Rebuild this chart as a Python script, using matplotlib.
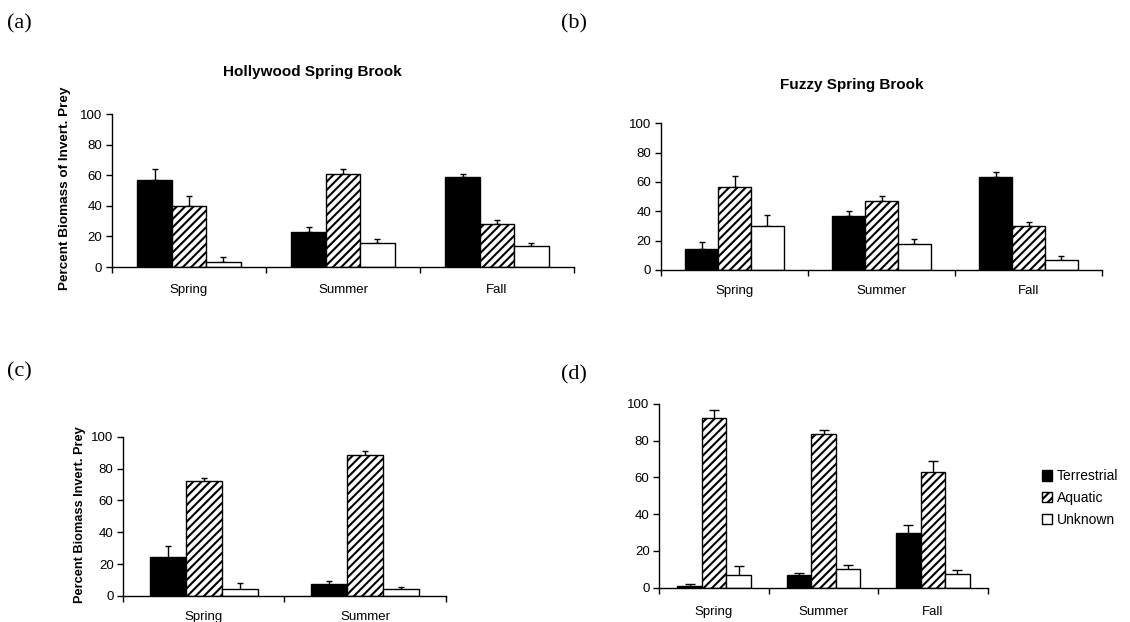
import matplotlib
matplotlib.use("Agg")
import matplotlib.pyplot as plt
import numpy as np
from matplotlib.patches import Patch

plt.rcParams['font.family'] = ['Liberation Sans', 'DejaVu Sans']
plt.rcParams['hatch.linewidth'] = 1.5

series = ["Terrestrial", "Aquatic", "Unknown"]
seasons3 = ["Spring", "Summer", "Fall"]
seasons2 = ["Spring", "Summer"]

# (a) Hollywood Spring Brook
a_vals = {"Terrestrial": [57, 23, 58.5], "Aquatic": [40, 61, 28.3], "Unknown": [3, 15.5, 13.5]}
a_err = {"Terrestrial": [7, 3, 2.5], "Aquatic": [6.5, 3, 2.7], "Unknown": [3.5, 3, 2]}
# (b) Fuzzy Spring Brook
b_vals = {"Terrestrial": [14.3, 36.8, 63.2], "Aquatic": [56.4, 46.8, 30.2], "Unknown": [30.2, 17.5, 7]}
b_err = {"Terrestrial": [4.6, 3.4, 3.8], "Aquatic": [7.9, 3.6, 2.8], "Unknown": [7.5, 3.4, 2.5]}
# (c)
c_vals = {"Terrestrial": [24.7, 7.7], "Aquatic": [72.5, 88.5], "Unknown": [4.2, 4.6]}
c_err = {"Terrestrial": [7, 1.9], "Aquatic": [1.8, 2.5], "Unknown": [3.8, 1.3]}
# (d)
d_vals = {"Terrestrial": [1.0, 6.9, 29.7], "Aquatic": [92.1, 83.4, 63.0], "Unknown": [6.9, 10.3, 7.4]}
d_err = {"Terrestrial": [0.8, 1.2, 4.4], "Aquatic": [4.5, 2.3, 5.6], "Unknown": [5.0, 2.0, 2.4]}

styles = {
    "Terrestrial": dict(facecolor="black", hatch=None),
    "Aquatic": dict(facecolor="white", hatch="////"),
    "Unknown": dict(facecolor="white", hatch=None),
}

W, H = 1130, 622
fig = plt.figure(figsize=(W / 100, H / 100), dpi=100)


def ax_at(x0, x1, y0, y100):
    return fig.add_axes([x0 / W, 1 - y0 / H, (x1 - x0) / W, (y0 - y100) / H])


def draw(ax, cats, vals, errs, upper_only, capsize=2.5, xpad=9):
    n = len(cats)
    bw = 0.224
    xs = np.arange(n) + 0.5
    for i, s in enumerate(series):
        pos = xs + (i - 1) * bw
        v = np.array(vals[s])
        e = np.array(errs[s])
        if upper_only:
            yerr = [np.zeros_like(e), e]
        else:
            yerr = e
        ax.errorbar(pos, v, yerr=yerr, fmt="none", ecolor="black", elinewidth=1,
                    capsize=capsize, capthick=1, zorder=1)
        ax.bar(pos, v, width=bw, edgecolor="black", linewidth=1,
               facecolor=styles[s]["facecolor"], hatch=styles[s]["hatch"], zorder=2)
    ax.set_xlim(0, n)
    ax.set_ylim(0, 100)
    ax.set_yticks([0, 20, 40, 60, 80, 100])
    ax.set_xticks(np.arange(n + 1))
    ax.set_xticklabels([])
    ax.set_xticks(xs, minor=True)
    ax.set_xticklabels(cats, minor=True)
    ax.tick_params(axis="x", which="major", length=4, direction="out", width=1)
    ax.tick_params(axis="x", which="minor", length=0, pad=xpad, labelsize=9.5)
    ax.tick_params(axis="y", length=4, direction="out", width=1, labelsize=9.5, pad=3)
    for sp in ["top", "right"]:
        ax.spines[sp].set_visible(False)
    for sp in ["left", "bottom"]:
        ax.spines[sp].set_linewidth(1)


ax_a = ax_at(112, 574, 267, 114)
draw(ax_a, seasons3, a_vals, a_err, True, xpad=12.5)
ax_b = ax_at(661, 1102, 270, 123.3)
draw(ax_b, seasons3, b_vals, b_err, True, xpad=11)
ax_c = ax_at(123.3, 445.7, 596, 436.7)
draw(ax_c, seasons2, c_vals, c_err, False, xpad=11)
ax_d = ax_at(659.3, 987.7, 587.7, 403.7)
draw(ax_d, seasons3, d_vals, d_err, False, capsize=3.5, xpad=13.5)

# titles
fig.text(312 / W, 1 - 72 / H, "Hollywood Spring Brook", ha="center", va="center",
         fontsize=11, fontweight="bold")
fig.text(852 / W, 1 - 85 / H, "Fuzzy Spring Brook", ha="center", va="center",
         fontsize=11, fontweight="bold")

# y labels
fig.text(65 / W, 1 - 188 / H, "Percent Biomass of Invert. Prey", rotation=90,
         ha="center", va="center", fontsize=9.7, fontweight="bold")
fig.text(79.5 / W, 1 - 515 / H, "Percent Biomass Invert. Prey", rotation=90,
         ha="center", va="center", fontsize=9.2, fontweight="bold")

# panel labels
for lab, x, y in [("(a)", 7, 24), ("(b)", 561, 24), ("(c)", 7, 372), ("(d)", 561, 375)]:
    fig.text(x / W, 1 - y / H, lab, ha="left", va="center", fontsize=16,
             family=["Liberation Serif", "DejaVu Serif"])

# legend
handles = [Patch(facecolor=styles[s]["facecolor"], edgecolor="black", linewidth=1,
                 hatch=styles[s]["hatch"], label=s) for s in series]
fig.legend(handles=handles, loc="center left",
           bbox_to_anchor=(1042 / W, 1 - 498 / H), frameon=False, fontsize=10,
           handlelength=0.75, handleheight=0.75, handletextpad=0.3, labelspacing=0.55,
           borderaxespad=0, borderpad=0)

fig.savefig("out.png", dpi=100)
